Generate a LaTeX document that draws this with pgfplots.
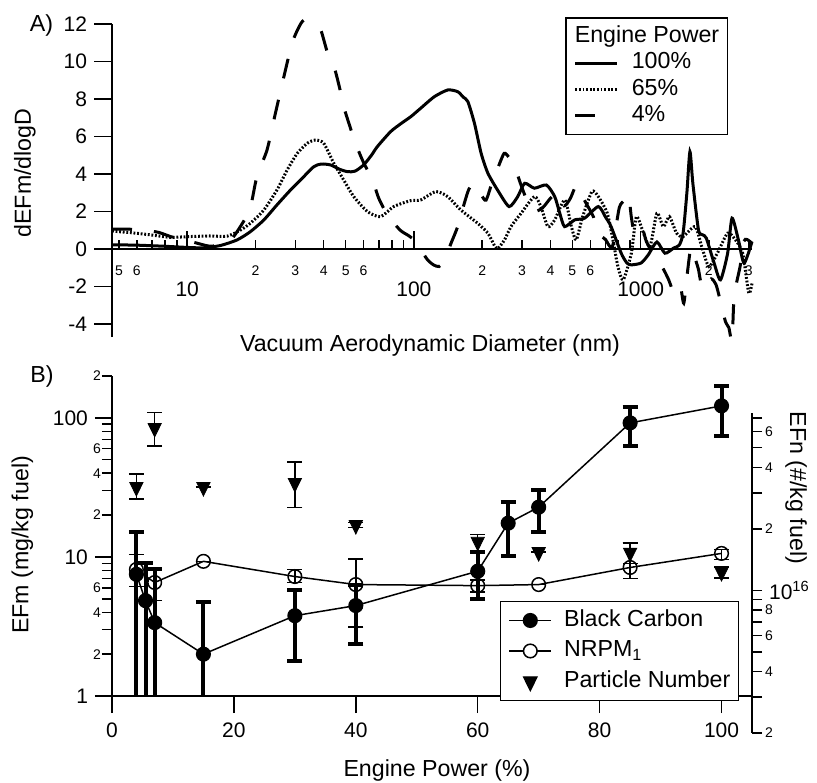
\documentclass[border=0pt]{standalone}
\usepackage{pgfplots}
\pgfplotsset{compat=1.18}
\usepackage{fontspec}
\setmainfont{Liberation Sans}
\newcommand\fbig{\fontsize{10.5}{12}\selectfont}
\newcommand\fsmall{\fontsize{7}{8}\selectfont}
\newcommand\flab{\fontsize{11.6}{13.5}\selectfont}
\begin{document}
\begin{tikzpicture}
\path[use as bounding box] (0,0) rectangle (408.5pt,-391pt);

% ---------------- Panel A ----------------
\begin{axis}[
  at={(56pt,-168.5pt)}, anchor=south west,
  scale only axis, width=320pt, height=156.5pt,
  xmode=log, xmin=4.66, xmax=3100, ymin=-4.7, ymax=12,
  axis x line=middle, axis y line=left,
  axis line style={-, line width=0.75pt},
  every inner x axis line/.append style={-},
  every outer y axis line/.append style={-},
  tick style={line width=0.75pt, black},
  ytick align=outside, xtick align=inside,
  major tick length=9pt, minor tick length=4.5pt,
  xtick={10,100,1000}, xticklabels={10,100,1000},
  minor xtick={7,8,9,70,80,90,700,800,900},
  xticklabel style={font=\fbig, anchor=center, yshift=-20pt},
  extra x ticks={5,6,20,30,40,50,60,200,300,400,500,600,2000,3000},
  extra x tick labels={5,6,2,3,4,5,6,2,3,4,5,6,2,3},
  extra x tick style={major tick length=4.5pt, xticklabel style={font=\fsmall, anchor=center, yshift=9pt}},
  ytick={-4,-2,0,2,4,6,8,10,12}, yticklabels={-4,-2,0,2,4,6,8,10,12},
  yticklabel style={font=\fbig},
  clip=false,
  legend image code/.code={\draw[#1] (0pt,0pt) -- (21pt,0pt);},
  legend cell align=left,
  legend style={at={(0.708,1.022)}, anchor=north west, draw=black, line width=0.7pt, fill=white,
    font=\flab, inner xsep=4pt, inner ysep=4pt, row sep=2.4pt,
    cells={anchor=west},
    nodes={inner sep=0pt, text height=8.2pt, text depth=2.6pt},
    /tikz/every odd column/.append style={column sep=6.5pt}},
]
\addlegendimage{empty legend}
\addlegendentry{\hspace{-28.5pt}Engine Power}

\addplot[black, line width=1.5pt, smooth, tension=0.4] coordinates {
(4.66,0.22) (6,0.2) (8,0.14) (10,0.08) (11.8,0.06) (14,0.18) (16.6,0.48) (19,0.92) (21.8,1.55) (24.9,2.35) (28.6,3.15) (32.7,3.86) (36.2,4.39) (39,4.53) (42.9,4.48) (47,4.25) (51,4.12) (55,4.15) (60,4.48) (65,5.0) (69,5.46) (79,6.26) (88,6.7) (97,7.06) (107,7.5) (123,8.12) (141,8.48) (156,8.39) (165,8.1) (173,7.86) (185,6.7) (198,5.1) (212,4.04) (235,3.1) (263,2.26) (287,2.79) (308,3.5) (340,3.24) (384,3.41) (418,2.79) (440,1.9) (462,1.19) (512,1.55) (566,1.64) (651,2.26) (700,1.7) (741,1.19) (821,-0.23) (870,-0.75) (910,-0.85) (1005,-0.75) (1080,-0.32) (1180,0.37) (1280,-0.23) (1400,0.05) (1480,0.2) (1540,0.85) (1600,3.0) (1650,5.19) (1700,3.5) (1800,1.01) (1880,0.75) (1950,0.57) (2110,-0.76) (2250,-1.65) (2420,-0.23) (2530,1.64) (2700,0.48) (2860,-0.76) (3100,0.39)
};
\addlegendentry{100\%}

\addplot[black, line width=1.5pt, dash pattern=on 0.9pt off 0.9pt, smooth, tension=0.4] coordinates {
(4.66,0.95) (5.6,0.87) (6.9,0.75) (8.4,0.62) (10.3,0.66) (12.6,0.69) (15,0.68) (17.2,1.01) (19,1.37) (21.8,2.08) (24.9,3.15) (27.6,4.21) (30.6,5.1) (33.9,5.64) (36.8,5.81) (40,5.64) (44.3,4.58) (49,3.68) (54.3,2.79) (62.4,1.99) (71.3,1.72) (81.5,2.26) (97,2.58) (107,2.61) (125,3.06) (141,2.79) (161,2.08) (191,1.37) (212,0.84) (228,0.12) (235,0.04) (251,0.48) (268,1.19) (297,1.9) (340,2.79) (363,2.26) (390,1.19) (418,1.55) (463,2.61) (495,1.19) (520,0.48) (555,1.72) (610,3.06) (651,2.79) (713,1.9) (755,0.48) (794,-0.94) (838,-1.65) (910,-0.23) (958,1.72) (1030,0.84) (1100,0.12) (1180,1.9) (1260,1.19) (1340,1.72) (1440,0.84) (1540,0.66) (1740,1.19) (1860,0.12) (2000,-0.94) (2180,-0.23) (2420,0.84) (2620,0.48) (2820,-0.23) (3000,-2.36) (3100,-1.83)
};
\addlegendentry{65\%}

\addplot[black, line width=1.5pt, dash pattern=on 10pt off 11pt, smooth, tension=0.4] coordinates {
(4.66,1.05) (5.6,1.05) (6.5,1.0) (7.5,0.88) (8.5,0.65) (10,0.45) (11.5,0.25) (12.5,0.15) (14,0.2) (15.5,0.45) (16.6,0.92) (18,1.6) (19,2.17) (20.3,3.86) (22.5,5.28) (24.5,7.24) (26.7,9.19) (29,10.97) (31,11.8) (32.7,12.2) (36.2,12.05) (38.8,11.7) (41.5,10.5) (44.5,9.7) (47,8.6) (49,7.6) (52,6.6) (55.4,5.6) (60,4.6) (65.6,3.7) (70,2.7) (76.6,1.8) (87,1.0) (95,0.7) (102,0.39) (108,-0.1) (115,-0.59) (122,-0.85) (129,-0.94) (136,-0.6) (146,0.32) (156,1.19) (167,2.45) (175,3.2) (185,3.5) (198,2.9) (208,2.6) (222,3.6) (236,4.4) (250,5.1) (262,4.9) (278,4.4) (295,3.5) (315,2.6) (340,2.0) (370,2.2) (400,2.7) (430,3.0) (460,2.3) (490,2.7) (520,3.4) (545,3.0) (565,2.6) (620,1.7) (650,0.85) (700,0.5) (750,0.1) (805,2.2) (850,2.6) (885,2.9) (910,1.7) (940,0.85) (1010,1.2) (1060,0.4) (1150,-0.4) (1250,-1.0) (1330,-1.65) (1400,-2.35) (1450,-2.2) (1500,-2.0) (1550,-2.9) (1600,-1.5) (1650,-0.2) (1690,0.1) (1750,-0.6) (1800,-1.1) (1860,-2.0) (1950,-2.1) (2050,-1.6) (2150,-1.9) (2250,-2.8) (2370,-3.9) (2450,-4.2) (2530,-4.9) (2580,-2.6) (2650,-1.8) (2750,-0.9) (2850,0.4) (2950,0.5) (3100,0.3)
};
\addlegendentry{4\%}
\end{axis}

% ---------------- Panel B (left axis) ----------------
\begin{axis}[
  at={(56pt,-348pt)}, anchor=south west,
  scale only axis, width=320pt, height=160pt,
  xmin=0, xmax=105, ymode=log, ymin=1, ymax=200,
  axis x line=bottom, axis y line=left,
  axis line style={-, line width=0.75pt},
  every outer x axis line/.append style={-},
  every outer y axis line/.append style={-},
  tick style={line width=0.75pt, black},
  tick align=outside,
  major tick length=8.5pt, minor tick length=5pt,
  xtick={0,20,40,60,80,100}, xticklabels={0,20,40,60,80,100},
  minor xtick={},
  xticklabel style={font=\fbig, yshift=-1.5pt},
  ytick={1,10,100}, yticklabels={1,10,100},
  yticklabel style={font=\fbig},
  minor ytick={3,5,7,8,9,30,50,70,80,90},
  extra y ticks={2,4,6,20,40,60,200}, extra y tick labels={2,4,6,2,4,6,2},
  extra y tick style={major tick length=5pt, yticklabel style={font=\fsmall, xshift=3pt}},
]
% NRPM1
\addplot[black, line width=0.75pt, mark=o, mark size=3.4pt,
  error bars/.cd, y dir=both, y explicit,
  error bar style={line width=0.75pt},
  error mark options={rotate=90, line width=0.75pt, mark size=3.75pt}]
coordinates {
(4,8.12) += (0,2.3) -= (0,2.0)
(7,6.55) += (0,1.75) -= (0,1.7)
(15,9.3) += (0,0) -= (0,0)
(30,7.23) += (0,0.9) -= (0,0.7)
(40,6.33) += (0,3.3) -= (0,3.2)
(60,6.22) += (0,0.6) -= (0,0.6)
(70,6.33) += (0,0) -= (0,0)
(85,8.4) += (0,4.3) -= (0,1.4)
(100,10.6) += (0,0.7) -= (0,1.0)
};
% Black carbon
\addplot[black, line width=0.75pt, mark=*, mark size=3.4pt,
  error bars/.cd, y dir=both, y explicit,
  error bar style={line width=2pt},
  error mark options={rotate=90, line width=2pt, mark size=3.75pt}]
coordinates {
(4,7.5) += (0,7.5) -= (0,6.6)
(5.5,4.85) += (0,4.25) -= (0,3.95)
(7,3.37) += (0,4.76) -= (0,2.47)
(15,2.0) += (0,2.77) -= (0,1.1)
(30,3.78) += (0,2.02) -= (0,1.99)
(40,4.47) += (0,1.8) -= (0,2.1)
(60,7.9) += (0,2.9) -= (0,2.9)
(65,17.5) += (0,7.2) -= (0,7.4)
(70,22.8) += (0,7.4) -= (0,7.8)
(85,92) += (0,28) -= (0,29)
(100,122) += (0,48) -= (0,48)
};
\end{axis}

% ---------------- Panel B (right axis) ----------------
\begin{axis}[
  at={(56pt,-366.5pt)}, anchor=south west,
  scale only axis, width=320pt, height=160pt,
  xmin=0, xmax=105, ymode=log, ymin=2e15, ymax=7.4e16,
  hide x axis, axis y line=right,
  axis line style={-, line width=0.75pt},
  every outer y axis line/.append style={-},
  tick style={line width=0.75pt, black},
  tick align=outside,
  major tick length=5pt, minor tick length=5pt,
  ytick={1e16}, yticklabels={10\textsuperscript{16}},
  yticklabel style={font=\fbig},
  minor ytick={3e15,5e15,7e15,9e15,3e16,5e16,7e16},
  extra y ticks={2e15,4e15,6e15,8e15,2e16,4e16,6e16}, extra y tick labels={2,4,6,8,2,4,6},
  extra y tick style={major tick length=5pt, yticklabel style={font=\fsmall, xshift=-2pt}},
  legend image code/.code={\draw[mark repeat=2,mark phase=2,#1] plot coordinates {(0pt,0pt) (10.5pt,0pt) (21pt,0pt)};},
  legend cell align=left,
  legend style={at={(0.606,0.4125)}, anchor=north west, draw=black, line width=0.7pt, fill=white,
    font=\flab, inner xsep=4pt, inner ysep=4pt, row sep=4.45pt,
    cells={anchor=west},
    nodes={inner sep=0pt, text height=8.2pt, text depth=2.6pt},
    /tikz/every odd column/.append style={column sep=6pt}},
]
\addlegendimage{black, line width=0.75pt, mark=*, mark size=3.4pt}
\addlegendentry{Black Carbon}
\addlegendimage{black, line width=0.75pt, mark=*, mark size=3.4pt, mark options={fill=white, draw=black}}
\addlegendentry{NRPM\textsubscript{1}}
\addplot[black, only marks, mark=triangle*, mark size=4.5pt, mark options={rotate=180, xscale=0.85},
  error bars/.cd, y dir=both, y explicit,
  error bar style={line width=0.75pt},
  error mark options={rotate=90, line width=0.75pt, mark size=3.75pt}]
coordinates {
(4,3.21e16) += (0,0.51e16) -= (0,0.40e16)
(7,6.25e16) += (0,1.24e16) -= (0,1.15e16)
(15,3.21e16) += (0,0) -= (0,0)
(30,3.36e16) += (0,0.90e16) -= (0,0.82e16)
(40,2.09e16) += (0,0.06e16) -= (0,0.06e16)
(60,1.73e16) += (0,0.15e16) -= (0,0.19e16)
(70,1.54e16) += (0,0) -= (0,0)
(85,1.53e16) += (0,0.18e16) -= (0,0.18e16)
(100,1.23e16) += (0,0.07e16) -= (0,0.08e16)
};
\addlegendentry{Particle Number}
\end{axis}

% ---------------- Text ----------------
\node[font=\flab] at (20.75pt,-12.5pt) {A)};
\node[font=\flab] at (21pt,-188pt) {B)};
\node[font=\flab, rotate=90] at (12.5pt,-86.5pt) {dEFm/dlogD};
\node[font=\flab, rotate=90] at (11.25pt,-272.5pt) {EFm (mg/kg fuel)};
\node[font=\flab, rotate=-90] at (398pt,-244pt) {EFn (\#/kg fuel)};
\node[font=\flab] at (215pt,-172.5pt) {Vacuum Aerodynamic Diameter (nm)};
\node[font=\flab] at (218.5pt,-385pt) {Engine Power (\%)};
\end{tikzpicture}
\end{document}
